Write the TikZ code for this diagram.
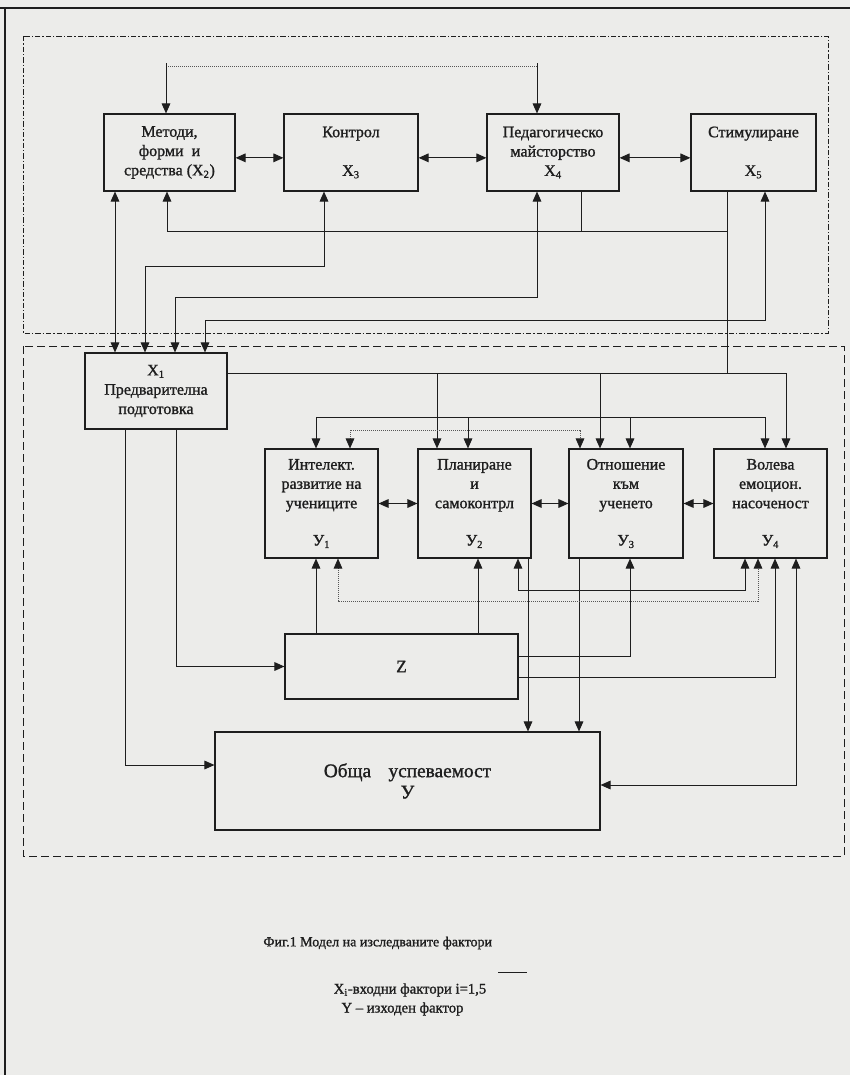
\documentclass[tikz,border=0pt]{standalone}
\usepackage{fontspec}
\setmainfont{Liberation Serif}[BoldFont=Liberation Serif, BoldFeatures={FakeBold=1.2}]
\usetikzlibrary{arrows.meta, positioning}

\definecolor{paper}{RGB}{236,236,234}
\definecolor{ink}{RGB}{30,30,30}
\newcommand{\idx}[1]{\textsubscript{#1}}

\begin{document}
\begin{tikzpicture}[x=0.75pt, y=-0.75pt, line width=0.75pt, color=ink,
  font=\fontsize{12}{14.5}\selectfont\bfseries,
  blk/.style={draw, line width=0.85pt, align=center, inner sep=2pt},
  topblk/.style={blk, minimum height=57.75pt},
  yblk/.style={blk, minimum width=84.75pt, minimum height=81.75pt},
  arr/.style={-{Triangle[length=7.5pt,width=6.5pt,color=ink]}},
  darr/.style={{Triangle[length=7.5pt,width=6.5pt,color=ink]}-{Triangle[length=7.5pt,width=6.5pt,color=ink]}},
  dots/.style={densely dotted, line width=0.5pt, ink!75},
  dashdotframe/.style={line width=0.6pt, dash pattern=on 4pt off 1.5pt on 1pt off 1.5pt},
  dashframe/.style={line width=0.6pt, dash pattern=on 6pt off 3pt},
  legend/.style={font=\fontsize{11}{13}\selectfont\bfseries}]
  \fill[paper] (0,0) rectangle (850,1075);
  \useasboundingbox (0,0) rectangle (850,1075);
  % page edge
  \draw[line width=0.9pt] (0,8) -- (850,8);
  \draw[line width=0.9pt] (5,8) -- (5,1075);
  % frames
  \draw[dashdotframe] (23,36) rectangle (828,333);
  \draw[dashframe] (23,346) rectangle (844,856);
  % X set
  \node[topblk, minimum width=98.25pt] (M) at (169.5,152.5) {Методи,\\форми\ \ и\\средства (X\idx{2})};
  \node[topblk, minimum width=100.5pt] (K) at (351,152.5) {Контрол\\[14.5pt]X\idx{3}};
  \node[topblk, minimum width=99pt] (P) at (553,152.5) {Педагогическо\\майсторство\\X\idx{4}};
  \node[topblk, minimum width=93.75pt] (S) at (753.5,152.5) {Стимулиране\\[14.5pt]X\idx{5}};
  \node[blk, minimum width=106.5pt, minimum height=57pt] (X1) at (156,391) {X\idx{1}\\Предварителна\\подготовка};
  % Y set
  \node[yblk] (Y1) at (321.5,503.5) {Интелект.\\развитие на\\учениците\\[13.5pt]У\idx{1}};
  \node[yblk] (Y2) at (474.5,503.5) {Планиране\\и\\самоконтрл\\[13.5pt]У\idx{2}};
  \node[yblk, minimum width=85.5pt] (Y3) at (626,503.5) {Отношение\\към\\ученето\\[13.5pt]У\idx{3}};
  \node[yblk] (Y4) at (770.5,503.5) {Волева\\емоцион.\\насоченост\\[13.5pt]У\idx{4}};
  \node[blk, minimum width=174.75pt, minimum height=48.75pt, font=\fontsize{13}{15}\selectfont\bfseries] (Z) at (401.5,666.5) {Z};
  \node[blk, minimum width=288.75pt, minimum height=73.5pt, font=\fontsize{14.5}{16}\selectfont\bfseries] (T) at (407.5,781) {Обща\hspace{0.9em}успеваемост\\У};
  % inputs from above
  \coordinate (inM) at (166,63);
  \coordinate (inP) at (537,63);
  \draw[dots] (inM |- 0,66) -- (inP |- 0,66);
  \draw[arr] (inM) -- (M.north -| inM);
  \draw[arr] (inP) -- (P.north -| inP);
  % top row links
  \draw[darr] ([yshift=-4pt]M.east) -- ([yshift=-4pt]K.west);
  \draw[darr] ([yshift=-4pt]K.east) -- ([yshift=-4pt]P.west);
  \draw[darr] ([yshift=-4pt]P.east) -- ([yshift=-4pt]S.west);
  \draw[arr] (P.south -| 581,0) |- (167,231) -- (M.south -| 167,0);
  \draw (S.south -| 727,0) -- (727,373);
  \draw (727,231) -- (581,231);
  % X1 with the top row
  \draw[darr] (M.south -| 115,0) -- (X1.north -| 115,0);
  \draw[darr] (K.south -| 324,0) |- (145,266) -- (X1.north -| 145,0);
  \draw[darr] (P.south -| 537,0) |- (175,297) -- (X1.north -| 175,0);
  \draw[darr] (S.south -| 765,0) |- (205,320) -- (X1.north -| 205,0);
  % X1 to the Y row
  \draw[arr] (X1.east |- 0,373) -| (Y4.north -| 786,0);
  \foreach \x/\b in {437/Y2, 600/Y3}
    \draw[arr] (\x,373) -- (\b.north -| \x,0);
  \draw[darr] (Y1.north -| 316,0) |- (765,417) -- (Y4.north -| 765,0);
  \foreach \x/\b in {468/Y2, 630/Y3}
    \draw[arr] (\x,417) -- (\b.north -| \x,0);
  \draw[dots, darr] (Y1.north -| 350,0) |- (580,430) -- (Y3.north -| 580,0);
  % Y row links
  \draw[darr] (Y1) -- (Y2);
  \draw[darr] (Y2) -- (Y3);
  \draw[darr] (Y3) -- (Y4);
  % bottom part
  \draw[arr] (X1.south -| 176,0) |- (Z.west);
  \draw[arr] (X1.south -| 125,0) |- (T.west |- 0,765);
  \draw[arr] (Z.north -| 316,0) -- (Y1.south -| 316,0);
  \draw[arr] (Z.north -| 478,0) -- (Y2.south -| 478,0);
  \draw[arr] (Z.east |- 0,656) -| (Y3.south -| 630,0);
  \draw[arr] (Z.east |- 0,677) -| (Y4.south -| 775,0);
  \draw[arr] (Y2.south -| 528,0) -- (T.north -| 528,0);
  \draw[arr] (Y3.south -| 579,0) -- (T.north -| 579,0);
  \draw[darr] (Y2.south -| 518,0) |- (745,590) -- (Y4.south -| 745,0);
  \draw[dots, darr] (Y1.south -| 338,0) |- (758,601) -- (Y4.south -| 758,0);
  \draw[darr] (Y4.south -| 796,0) |- (T.east |- 0,785);
  % caption
  \node[legend, font=\fontsize{10.5}{12.5}\selectfont\bfseries, anchor=east] (cap) at (497,943) {Фиг.1 Модел на изследваните фактори};
  \draw[line width=0.5pt] (498,972) -- (527,972);
  \node[legend] (leg1) at (410,990) {X\idx{i}-входни фактори i=1,5};
  \node[legend] (leg2) at (402.5,1009) {Y – изходен фактор};
\end{tikzpicture}
\end{document}
